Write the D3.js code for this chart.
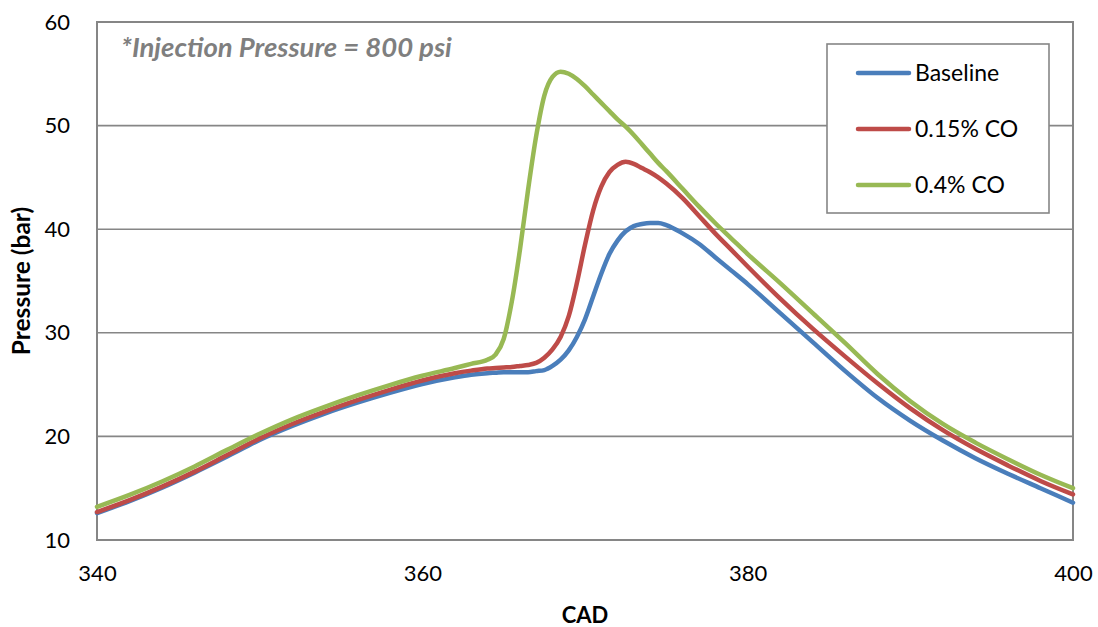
<!DOCTYPE html>
<html>
<head>
<meta charset="utf-8">
<script src="https://cdn.jsdelivr.net/npm/d3@7"></script>
<style>
  html, body { margin: 0; padding: 0; background: #fff; }
  svg { display: block; font-family: Lato, "Open Sans", sans-serif; }
</style>
</head>
<body>
<svg id="chart" width="1098" height="627"></svg>
<script>
// Crank angle (deg) sample points shared by all three series
const cad = [340, 342, 344, 346, 348, 350, 352, 354, 356, 358, 360, 362, 363, 364, 364.5,
  365, 365.5, 366, 366.5, 367, 367.5, 368, 368.5, 369, 369.5, 370, 370.5, 371, 371.5,
  372, 372.5, 373, 373.5, 374, 374.5, 375, 376, 377, 378, 379, 380, 382, 384, 386,
  388, 390, 392, 394, 396, 398, 400];

// Cylinder pressure (bar)
const baseline = [12.6, 13.75, 15.05, 16.5, 18.05, 19.65, 21.0, 22.2, 23.25, 24.2, 25.05, 25.7, 25.95, 26.1, 26.15,
  26.2, 26.2, 26.2, 26.2, 26.3, 26.4, 26.8, 27.4, 28.3, 29.6, 31.3, 33.5, 35.7, 37.6,
  38.9, 39.8, 40.3, 40.5, 40.6, 40.6, 40.4, 39.6, 38.6, 37.3, 36.0, 34.7, 31.9, 29.1, 26.3,
  23.7, 21.5, 19.6, 17.9, 16.4, 15.0, 13.6];

const co015 = [12.7, 13.85, 15.15, 16.6, 18.2, 19.8, 21.2, 22.4, 23.5, 24.5, 25.4, 26.1, 26.35, 26.55, 26.6,
  26.65, 26.7, 26.8, 26.9, 27.1, 27.6, 28.4, 29.6, 31.6, 34.8, 38.5, 41.8, 44.1, 45.5,
  46.2, 46.5, 46.3, 45.9, 45.5, 45.0, 44.4, 43.0, 41.3, 39.6, 38.0, 36.4, 33.3, 30.4, 27.7,
  25.1, 22.7, 20.6, 18.8, 17.2, 15.7, 14.4];

const co04 = [13.2, 14.35, 15.65, 17.1, 18.7, 20.25, 21.65, 22.85, 23.95, 24.95, 25.85, 26.6, 27.0, 27.4, 27.9,
  29.4, 33.0, 38.0, 43.8, 49.0, 52.9, 54.7, 55.2, 55.0, 54.5, 53.8, 53.0, 52.2, 51.4,
  50.6, 49.9, 49.1, 48.2, 47.3, 46.4, 45.6, 43.9, 42.2, 40.6, 39.1, 37.6, 34.8, 31.9, 29.0,
  26.0, 23.4, 21.2, 19.4, 17.8, 16.3, 15.0];

const seriesNames = ["Baseline", "0.15% CO", "0.4% CO"];
const seriesValues = [baseline, co015, co04];
const seriesColors = ["#4a7ebb", "#be4b48", "#98b954"];

const xTicks = [340, 360, 380, 400];
const yTicks = [10, 20, 30, 40, 50, 60];

const svg = d3.select("#chart");
const plot = { left: 97, right: 1073, top: 22, bottom: 540 };

const x = d3.scaleLinear().domain([340, 400]).range([plot.left, plot.right]);
const y = d3.scaleLinear().domain([10, 60]).range([plot.bottom, plot.top]);

const gridColor = "#868686";

// Horizontal gridlines
svg.append("g")
  .selectAll("line")
  .data(yTicks.filter(d => d > 10 && d < 60))
  .join("line")
  .attr("x1", plot.left).attr("x2", plot.right)
  .attr("y1", d => y(d)).attr("y2", d => y(d))
  .attr("stroke", gridColor).attr("stroke-width", 1.6);

// Plot-area frame
svg.append("rect")
  .attr("x", plot.left).attr("y", plot.top)
  .attr("width", plot.right - plot.left).attr("height", plot.bottom - plot.top)
  .attr("fill", "none").attr("stroke", gridColor).attr("stroke-width", 2);

// Y axis
const yAxis = svg.append("g")
  .attr("transform", `translate(${plot.left},0)`)
  .call(d3.axisLeft(y).tickValues(yTicks).tickSize(0).tickPadding(27).tickFormat(d3.format("d")));
yAxis.select(".domain").remove();
yAxis.selectAll("text").attr("font-size", 22).attr("fill", "#000").attr("font-family", "Lato");

// X axis
const xAxis = svg.append("g")
  .attr("transform", `translate(0,${plot.bottom})`)
  .call(d3.axisBottom(x).tickValues(xTicks).tickSize(0).tickPadding(25).tickFormat(d3.format("d")));
xAxis.select(".domain").remove();
xAxis.selectAll("text").attr("font-size", 22).attr("fill", "#000").attr("font-family", "Lato");

// Axis titles
svg.append("text")
  .attr("x", (plot.left + plot.right) / 2).attr("y", 623)
  .attr("text-anchor", "middle").attr("font-weight", "bold").attr("font-size", 22)
  .text("CAD");

svg.append("text")
  .attr("transform", `translate(30,${(plot.top + plot.bottom) / 2}) rotate(-90)`)
  .attr("text-anchor", "middle").attr("font-weight", "bold").attr("font-size", 24.5)
  .text("Pressure (bar)");

// Pressure traces
const line = d3.line()
  .x((d, i) => x(cad[i]))
  .y(d => y(d))
  .curve(d3.curveMonotoneX);

svg.append("g")
  .selectAll("path")
  .data(seriesValues)
  .join("path")
  .attr("d", d => line(d))
  .attr("fill", "none")
  .attr("stroke", (d, i) => seriesColors[i])
  .attr("stroke-width", 4.5)
  .attr("stroke-linejoin", "round")
  .attr("stroke-linecap", "round");

// Annotation
svg.append("text")
  .attr("x", 121).attr("y", 57)
  .attr("font-size", 27.5).attr("font-weight", "bold").attr("font-style", "italic")
  .attr("fill", "#7f7f7f")
  .text("*Injection Pressure = 800 psi");

// Legend
const legend = svg.append("g");
legend.append("rect")
  .attr("x", 827).attr("y", 44).attr("width", 222).attr("height", 169)
  .attr("fill", "#fff").attr("stroke", gridColor).attr("stroke-width", 1.6);

const rows = legend.selectAll("g.row")
  .data(seriesNames)
  .join("g")
  .attr("class", "row")
  .attr("transform", (d, i) => `translate(0,${73 + i * 56})`);

rows.append("line")
  .attr("x1", 858).attr("x2", 909)
  .attr("stroke", (d, i) => seriesColors[i])
  .attr("stroke-width", 4.5).attr("stroke-linecap", "round");

rows.append("text")
  .attr("x", 915).attr("dy", "0.35em")
  .attr("font-size", 23).attr("fill", "#000")
  .text(d => d);
</script>
</body>
</html>
